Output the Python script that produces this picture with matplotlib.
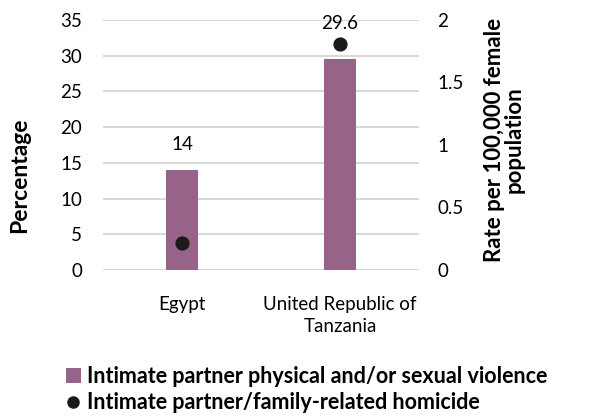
import matplotlib.pyplot as plt
from matplotlib.lines import Line2D
from matplotlib.patches import Patch

countries = ["Egypt", "United Republic of\nTanzania"]
violence_pct = [14, 29.6]
homicide_rate = [0.22, 1.81]

bar_color = "#976389"
plt.rcParams["font.family"] = ["Lato", "DejaVu Sans"]

fig = plt.figure(figsize=(6.08, 4.17), dpi=100)
ax = fig.add_axes([103 / 608, 1 - 270 / 417, 316 / 608, 250 / 417])
ax2 = ax.twinx()

x = range(len(countries))
ax.bar(x, violence_pct, width=0.2, color=bar_color, zorder=2)
ax.set_xlim(-0.5, 1.5)
ax.set_ylim(0, 35)
ax.set_yticks(range(0, 36, 5))
ax.set_xticks(list(x))
ax.set_xticklabels(countries, fontsize=13.5, linespacing=1.35)
ax.grid(axis="y", color="#d9d9d9", linewidth=1.5, zorder=0)
ax.tick_params(axis="y", length=0, labelsize=13.5, pad=15)
ax.tick_params(axis="x", length=0, pad=19)
for s in ax.spines.values():
    s.set_visible(False)

label_offsets = [18, 25]
for xi, v, off in zip(x, violence_pct, label_offsets):
    ax.annotate(f"{v:g}", (xi, v), xytext=(0, off), textcoords="offset points",
                ha="center", va="center", fontsize=13.5)

ax2.scatter(x, homicide_rate, s=85, color="#1a1a1a", zorder=3)
ax2.set_ylim(0, 2)
ax2.set_yticks([0, 0.5, 1, 1.5, 2])
ax2.set_yticklabels(["0", "0.5", "1", "1.5", "2"])
ax2.tick_params(length=0, labelsize=13.5, pad=13)
for s in ax2.spines.values():
    s.set_visible(False)

ax.set_ylabel("Percentage", fontsize=16.5, fontweight="bold")
ax.yaxis.set_label_coords(-0.23, 0.38)
ax2.set_ylabel("Rate per 100,000 female\npopulation", fontsize=16,
               fontweight="bold", linespacing=0.95)
ax2.yaxis.set_label_coords(1.205, 0.52)

handles = [
    Patch(facecolor=bar_color, edgecolor="none"),
    Line2D([], [], marker="o", linestyle="none", color="#1a1a1a", markersize=8),
]
labels = ["Intimate partner physical and/or sexual violence",
          "Intimate partner/family-related homicide"]
fig.legend(handles, labels, loc="upper left", bbox_to_anchor=(55 / 608, 1 - 355 / 417),
           frameon=False, prop={"weight": "bold", "size": 15.5},
           handlelength=0.7, handleheight=0.7, handletextpad=0.3,
           labelspacing=0.25, borderpad=0)

plt.savefig("out.png", dpi=100)
